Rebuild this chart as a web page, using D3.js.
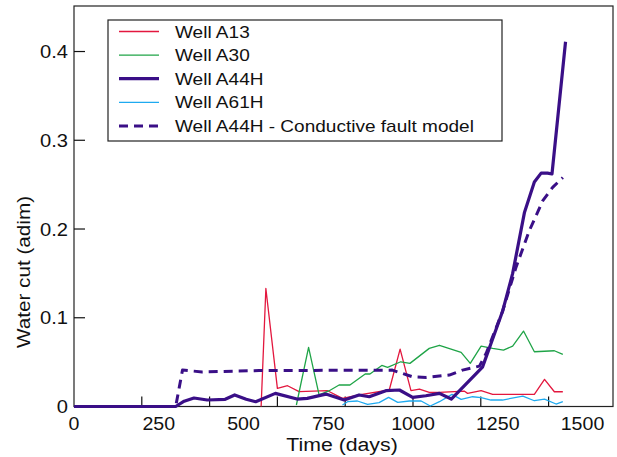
<!DOCTYPE html>
<html>
<head>
<meta charset="utf-8">
<script src="https://cdn.jsdelivr.net/npm/d3@7"></script>
<style>
  html, body { margin: 0; padding: 0; background: #fff; }
  svg { display: block; font-family: "Liberation Sans", Arial, Helvetica, sans-serif; }
</style>
</head>
<body>
<svg id="chart" width="617" height="457"></svg>
<script>
// ---- Data (days, water cut) ----
const wellA13Days   = [552, 566, 600, 630, 664, 748, 792, 841, 930, 962, 994, 1019, 1048, 1078, 1151, 1161, 1201, 1235, 1358, 1388, 1417, 1442];
const wellA13Values = [0, 0.133, 0.0205, 0.0234, 0.0167, 0.0178, 0.0092, 0.013, 0.0186, 0.0647, 0.0178, 0.0197, 0.016, 0.016, 0.0174, 0.0148, 0.018, 0.0137, 0.0137, 0.0306, 0.0166, 0.0166];

const wellA30Days   = [656, 692, 723, 753, 782, 814, 859, 873, 908, 925, 964, 991, 1048, 1078, 1142, 1169, 1201, 1235, 1267, 1294, 1326, 1358, 1417, 1442];
const wellA30Values = [0.0017, 0.0666, 0.013, 0.0178, 0.0242, 0.0242, 0.0366, 0.0366, 0.0463, 0.044, 0.0504, 0.0486, 0.0655, 0.069, 0.061, 0.0486, 0.068, 0.0655, 0.0636, 0.068, 0.085, 0.0617, 0.0628, 0.0587];

const wellA44HDays   = [0, 300, 325, 354, 393, 446, 474, 508, 536, 594, 658, 688, 743, 797, 841, 871, 920, 960, 999, 1038, 1078, 1113, 1205, 1264, 1294, 1329, 1358, 1378, 1397, 1410, 1450];
const wellA44HValues = [0, 0, 0.006, 0.0096, 0.0073, 0.0081, 0.013, 0.0081, 0.0054, 0.0148, 0.0084, 0.0092, 0.014, 0.0073, 0.013, 0.011, 0.0178, 0.0186, 0.0103, 0.0121, 0.0148, 0.0084, 0.0444, 0.107, 0.150, 0.219, 0.253, 0.263, 0.263, 0.262, 0.411];

const wellA61HDays   = [792, 807, 836, 866, 900, 928, 955, 989, 1024, 1051, 1078, 1115, 1142, 1176, 1201, 1230, 1264, 1324, 1358, 1388, 1422, 1442];
const wellA61HValues = [0.0017, 0.0054, 0.0062, 0.0025, 0.0043, 0.0103, 0.0047, 0.0062, 0.0062, 0.0006, 0.0054, 0.0137, 0.0081, 0.011, 0.0099, 0.0073, 0.0073, 0.0118, 0.0065, 0.0084, 0.0028, 0.0054];

const modelDays   = [0, 300, 320, 378, 546, 939, 998, 1039, 1107, 1146, 1196, 1216, 1264, 1304, 1343, 1383, 1412, 1442];
const modelValues = [0, 0, 0.041, 0.039, 0.0405, 0.041, 0.0335, 0.0328, 0.0354, 0.041, 0.0455, 0.060, 0.107, 0.157, 0.198, 0.232, 0.247, 0.258];

const xTickMarks  = [200, 400, 600, 800, 1000, 1200, 1400];
const xTickLabels = [0, 250, 500, 750, 1000, 1250, 1500];
const yTicks      = [0, 0.1, 0.2, 0.3, 0.4];

const seriesNames = ["Well A13", "Well A30", "Well A44H", "Well A61H", "Well A44H - Conductive fault model"];

// ---- Layout ----
const svg = d3.select("#chart");
const plotL = 74, plotR = 613, plotT = 6, plotB = 406.5;
const SX = 1.12; // horizontal stretch of the reference's lettering
const x = d3.scaleLinear().domain([0, 1590]).range([plotL, plotR]);
const y = d3.scaleLinear().domain([0, 0.4513]).range([plotB, plotT]);

const zip = (ds, vs) => ds.map((d, i) => [d, vs[i]]);
const series = [
  { name: seriesNames[0], data: zip(wellA13Days, wellA13Values),   color: "#e3173e", width: 1.3, dash: null },
  { name: seriesNames[1], data: zip(wellA30Days, wellA30Values),   color: "#1fa447", width: 1.3, dash: null },
  { name: seriesNames[3], data: zip(wellA61HDays, wellA61HValues), color: "#1eaaf0", width: 1.3, dash: null },
  { name: seriesNames[4], data: zip(modelDays, modelValues),       color: "#3a0f87", width: 3,   dash: "9,6" },
  { name: seriesNames[2], data: zip(wellA44HDays, wellA44HValues), color: "#3a0f87", width: 3.2, dash: null },
];

const line = d3.line().x(d => x(d[0])).y(d => y(d[1]));

// frame
svg.append("rect")
  .attr("x", plotL).attr("y", plotT)
  .attr("width", plotR - plotL).attr("height", plotB - plotT)
  .attr("fill", "none").attr("stroke", "#222").attr("stroke-width", 1.2);

// x tick marks (inward, at 200s)
svg.append("g").selectAll("line").data(xTickMarks).join("line")
  .attr("x1", d => x(d)).attr("x2", d => x(d))
  .attr("y1", plotB).attr("y2", plotB - 10)
  .attr("stroke", "#111").attr("stroke-width", 1.2);

// x tick labels (at 250s)
svg.append("g").selectAll("text").data(xTickLabels).join("text")
  .attr("transform", d => `translate(${x(d)},430) scale(${SX},1)`)
  .attr("text-anchor", "middle")
  .attr("font-size", 17.5).attr("fill", "#111")
  .text(d => d);

// y ticks
svg.append("g").selectAll("line").data(yTicks.filter(d => d > 0)).join("line")
  .attr("x1", plotL).attr("x2", plotL + 11)
  .attr("y1", d => y(d)).attr("y2", d => y(d))
  .attr("stroke", "#111").attr("stroke-width", 1.2);

svg.append("g").selectAll("text").data(yTicks).join("text")
  .attr("transform", d => `translate(68,${y(d)}) scale(${SX},1)`)
  .attr("dy", "0.36em")
  .attr("text-anchor", "end")
  .attr("font-size", 18).attr("fill", "#111")
  .text(d => d === 0 ? "0" : d3.format(".1f")(d));

// axis titles
svg.append("text")
  .attr("transform", `translate(342,451) scale(${SX},1)`)
  .attr("text-anchor", "middle")
  .attr("font-size", 19).attr("fill", "#111")
  .text("Time (days)");

svg.append("text")
  .attr("transform", `translate(30,272) rotate(-90) scale(${SX},1)`)
  .attr("text-anchor", "middle")
  .attr("font-size", 18.5).attr("fill", "#111")
  .text("Water cut (adim)");

// series
svg.append("g").selectAll("path").data(series).join("path")
  .attr("d", d => line(d.data))
  .attr("fill", "none")
  .attr("stroke", d => d.color)
  .attr("stroke-width", d => d.width)
  .attr("stroke-dasharray", d => d.dash)
  .attr("stroke-linejoin", "round");

// legend
const legendItems = [series[0], series[1], series[4], series[2], series[3]];
const lg = svg.append("g");
lg.append("rect")
  .attr("x", 108).attr("y", 20).attr("width", 394).attr("height", 121)
  .attr("fill", "#fff").attr("stroke", "#222").attr("stroke-width", 1.2);
const rows = lg.selectAll("g").data(legendItems).join("g")
  .attr("transform", (d, i) => `translate(0,${31.5 + i * 23.6})`);
rows.append("line")
  .attr("x1", 119).attr("x2", 159).attr("y1", 0).attr("y2", 0)
  .attr("stroke", d => d.color)
  .attr("stroke-width", d => d.width)
  .attr("stroke-dasharray", d => d.dash);
rows.append("text")
  .attr("transform", `translate(175,0) scale(${SX},1)`)
  .attr("dy", "0.36em")
  .attr("font-size", 17).attr("fill", "#111")
  .text(d => d.name);
</script>
</body>
</html>
